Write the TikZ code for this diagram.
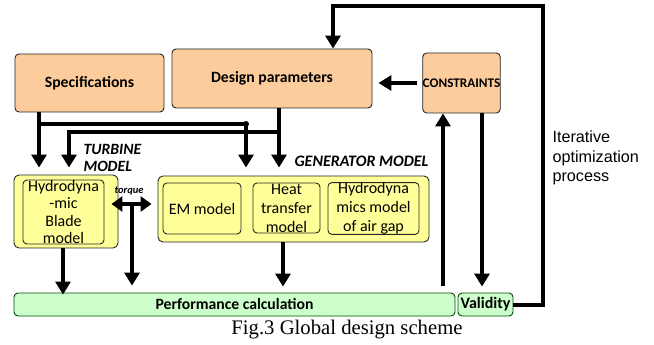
\documentclass[tikz,border=0pt]{standalone}
\usepackage{fontspec}
\setmainfont{Carlito}
\newfontfamily\captionfont{Liberation Serif}
\newfontfamily\notefont{Liberation Sans}
\usetikzlibrary{arrows.meta}

\definecolor{peach}{RGB}{252,204,156}
\definecolor{paleyellow}{RGB}{255,255,153}
\definecolor{palegreen}{RGB}{204,255,204}

\tikzset{
    block/.style={draw=black!85, line width=0.9pt, rounded corners=4pt, inner sep=0pt, anchor=center},
    inputbox/.style={block, fill=peach, font=\fontsize{15.7}{18}\selectfont\bfseries},
    modelbox/.style={block, fill=paleyellow, rounded corners=5pt},
    subbox/.style={block, fill=paleyellow, align=center, font=\fontsize{16}{19}\selectfont},
    resultbox/.style={block, draw=black!70!green, fill=palegreen, font=\fontsize{15.7}{18}\selectfont\bfseries},
    flow/.style={line width=4.5pt, -{Triangle[width=15pt,length=13pt]}},
    bar/.style={line width=4pt},
    modeltitle/.style={font=\fontsize{15.7}{19}\selectfont\bfseries\itshape, align=left}
}

\begin{document}
\begin{tikzpicture}[x=1pt,y=-1pt]

    \useasboundingbox (0,0) rectangle (654,345);

    % Draw the input boxes
    \node[inputbox, minimum width=149pt, minimum height=58pt] (spec) at (89.5,83) {Specifications};
    \node[inputbox, minimum width=200pt, minimum height=59pt] (param) at (272,78.5) {Design parameters};
    \node[inputbox, minimum width=77pt, minimum height=60pt, font=\fontsize{13.2}{15}\selectfont\bfseries] (cons) at (461.5,83) {CONSTRAINTS};

    % Draw the turbine model
    \node[modelbox, minimum width=104pt, minimum height=73pt] (turb) at (66,211.5) {};
    \node[subbox, minimum width=81pt, minimum height=64pt, font=\fontsize{16}{17.2}\selectfont] (blade) at (63.5,212) {Hydrodyna\\-mic\\Blade\\model};

    % Draw the generator model
    \node[modelbox, minimum width=271pt, minimum height=66pt] (gen) at (293.5,209) {};
    \node[subbox, minimum width=78pt, minimum height=51pt] (em) at (202,208.5) {EM model};
    \node[subbox, minimum width=67pt, minimum height=50pt] (heat) at (286.5,208) {Heat\\transfer\\model};
    \node[subbox, minimum width=91pt, minimum height=51pt] (gap) at (373.5,208.5) {Hydrodyna\\mics model\\of air gap};

    % Draw the result bars
    \node[resultbox, minimum width=441pt, minimum height=23pt] (perf) at (234.5,304.5) {Performance calculation};
    \node[resultbox, minimum width=55pt, minimum height=23pt, font=\fontsize{16}{18}\selectfont\bfseries] (valid) at (485.5,304.5) {Validity};

    % Label the areas
    \node[modeltitle, anchor=west] (turbtitle) at (80,158) {TURBINE\\[-2pt]MODEL};
    \node[modeltitle, anchor=west, font=\fontsize{16}{19}\selectfont\bfseries\itshape] (gentitle) at (291,161) {GENERATOR MODEL};
    \node[font=\fontsize{10.5}{11}\selectfont\bfseries\itshape] (torque) at (129,191) {torque};
    \node[font=\notefont\fontsize{16.2}{19.5}\selectfont, align=left, anchor=west] (iter) at (549,158) {Iterative\\optimization\\process};
    \node[font=\captionfont\fontsize{20.7}{24}\selectfont] (caption) at (347,330) {Fig.3 Global design scheme};

    % Junctions of the feed lines
    \coordinate (jS) at (39,124);
    \coordinate (jG) at (246,124);
    \coordinate (jP) at (279,132);
    \coordinate (jT) at (69,132);
    \coordinate (tq) at (132,204);
    \coordinate (upC) at (443,286);
    \coordinate (dnV) at (482,113);
    \coordinate (loopT) at (543,6);
    \coordinate (loopIn) at (333,6);
    \coordinate (colB) at (63,0);
    \coordinate (colH) at (283,0);

    % Feed lines into the models
    \draw[flow, shorten >=7pt] (spec.south -| jS) -- (turb.north -| jS);
    \draw[bar] (jS) -- (jG);
    \fill (jG) circle (3pt);
    \draw[flow, shorten >=8pt] (jG) -- (gen.north -| jG);
    \draw[flow, shorten >=8pt] (param.south -| jP) -- (gen.north -| jP);
    \draw[bar] (jP) -- ([xshift=-2pt]jT);
    \draw[flow, shorten >=7pt] (jT) -- (turb.north -| jT);

    % Torque exchange
    \draw[line width=4.5pt, {Triangle[width=15pt,length=11pt]}-{Triangle[width=15pt,length=11pt]}, shorten <=-7pt, shorten >=6pt] (turb.east |- tq) -- (gen.west |- tq);
    \draw[flow, shorten >=7pt] (tq) -- (perf.north -| tq);

    % Models into the performance calculation
    \draw[flow, shorten >=-2pt] (turb.south -| colB) -- (perf.north -| colB);
    \draw[flow, shorten >=6pt] (gen.south -| colH) -- (perf.north -| colH);

    % Constraints loop
    \draw[flow] (upC) -- (cons.south -| upC);
    \draw[flow, shorten >=6pt] (dnV) -- (valid.north -| dnV);
    \draw[flow, shorten <=5pt, shorten >=6pt] (cons.west) -- (param.east |- cons.west);
    \draw[flow, line width=4pt] (valid.east) -| (loopT) -- (loopIn) -- (param.north -| loopIn);

\end{tikzpicture}
\end{document}
